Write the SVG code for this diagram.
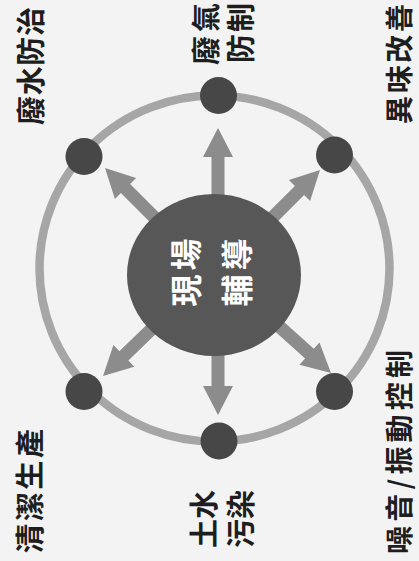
<svg xmlns="http://www.w3.org/2000/svg" xmlns:xlink="http://www.w3.org/1999/xlink" width="419" height="561" viewBox="0 0 419 561">
<style>
.lbl{font-family:"Noto Sans CJK TC","Noto Sans CJK SC",sans-serif;font-weight:bold;font-size:29px;fill:#1e1e1e;text-anchor:middle;dominant-baseline:central}
.rt{font-size:28px}
.ctr{font-family:"Noto Sans CJK TC","Noto Sans CJK SC",sans-serif;font-weight:bold;font-size:32px;fill:#ffffff;text-anchor:middle;dominant-baseline:central}
.dot{fill:#474747}
.arr{fill:#8c8c8c}
</style>
<defs>
<path id="arrow" d="M0,0 L15,29 L6.5,29 L6.5,130 L-6.5,130 L-6.5,29 L-15,29 Z"/>
</defs>
<rect width="419" height="561" fill="#f3f3f3"/>
<g id="ring">
<ellipse cx="214.5" cy="268.5" rx="175" ry="173" fill="none" stroke="#a6a6a6" stroke-width="8.5"/>
</g>
<g id="connectors" class="arr">
<use xlink:href="#arrow" href="#arrow" transform="translate(218,128)"/>
<use xlink:href="#arrow" href="#arrow" transform="translate(218,415) rotate(180)"/>
<use xlink:href="#arrow" href="#arrow" transform="translate(105,168) rotate(-45)"/>
<use xlink:href="#arrow" href="#arrow" transform="translate(320,170) rotate(45)"/>
<use xlink:href="#arrow" href="#arrow" transform="translate(103,376) rotate(-134)"/>
<use xlink:href="#arrow" href="#arrow" transform="translate(331,373) rotate(132)"/>
</g>
<g id="node-center">
<ellipse cx="214" cy="275" rx="87" ry="81" fill="#575757"/>
<text class="ctr" transform="translate(183.5,272.5) rotate(-90)" textLength="68">現場</text>
<text class="ctr" transform="translate(235,272.5) rotate(-90)" textLength="68">輔導</text>
</g>
<g id="node-wastewater">
<circle class="dot" cx="84" cy="156.5" r="18.5"/>
<text class="lbl" transform="translate(28.5,66) rotate(-90)" textLength="118">廢水防治</text>
</g>
<g id="node-exhaust">
<circle class="dot" cx="218.5" cy="95.5" r="18.5"/>
<text class="lbl" transform="translate(203.5,34) rotate(-90)" textLength="62">廢氣</text>
<text class="lbl" transform="translate(238.5,33) rotate(-90)" textLength="60">防制</text>
</g>
<g id="node-odor">
<circle class="dot" cx="334.5" cy="155" r="18.5"/>
<text class="lbl rt" transform="translate(398,64) rotate(-90)" textLength="120">異味改善</text>
</g>
<g id="node-clean">
<circle class="dot" cx="84" cy="391.5" r="18.5"/>
<text class="lbl" transform="translate(27.5,491) rotate(-90)" textLength="124">清潔生產</text>
</g>
<g id="node-soil">
<circle class="dot" cx="219" cy="441" r="18.5"/>
<text class="lbl" transform="translate(201.5,519) rotate(-90)" textLength="58">土水</text>
<text class="lbl" transform="translate(239,519) rotate(-90)" textLength="58">污染</text>
</g>
<g id="node-noise">
<circle class="dot" cx="334.5" cy="391.5" r="18.5"/>
<text class="lbl rt" transform="translate(398,452) rotate(-90)" textLength="204">噪音/振動控制</text>
</g>
</svg>
